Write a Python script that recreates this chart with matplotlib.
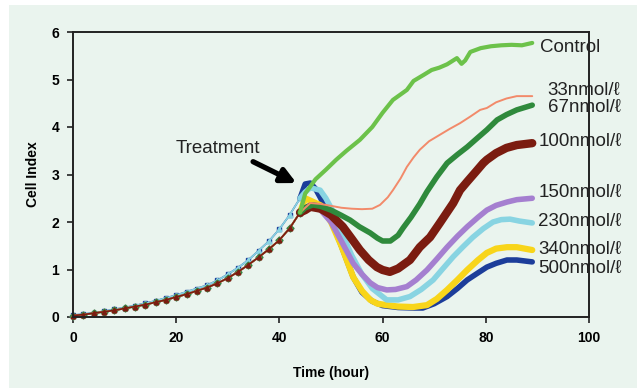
import matplotlib.pyplot as plt
from matplotlib.patches import Rectangle

# growth phase before treatment (hours, cell index)
t_pre = [0, 2, 4, 6, 8, 10, 12, 14, 16, 18, 20, 22, 24, 26, 28, 30, 32, 34, 36, 38, 40, 42, 44]
pre_low = [0.03, 0.05, 0.08, 0.11, 0.14, 0.18, 0.22, 0.26, 0.31, 0.36, 0.42, 0.48, 0.55, 0.62,
           0.71, 0.82, 0.95, 1.10, 1.26, 1.43, 1.62, 1.87, 2.20]
pre_high = [0.04, 0.06, 0.09, 0.12, 0.16, 0.20, 0.24, 0.29, 0.34, 0.40, 0.46, 0.53, 0.60, 0.67,
            0.77, 0.90, 1.04, 1.20, 1.40, 1.60, 1.85, 2.15, 2.50]

# after treatment
ctrl_t = [45, 47, 49, 51, 53, 55.6, 58, 60, 62, 64.7, 66, 68, 69.5, 71, 72.5, 74.4, 75.3, 76, 77, 79, 81,
          83, 85, 87, 89]
ctrl_y = [2.6, 2.9, 3.1, 3.31, 3.5, 3.73, 4.0, 4.3, 4.57, 4.78, 4.97, 5.1, 5.2, 5.25, 5.32, 5.45, 5.33,
          5.4, 5.58, 5.66, 5.7, 5.72, 5.73, 5.72, 5.77]

c33_t = [45, 46, 48, 50, 52, 54, 56, 58, 59.5, 61, 62, 63.5, 64.7, 66, 67.2, 69, 71, 73, 75, 77, 78.9, 80.2,
         82, 84, 86, 89]
c33_y = [2.3, 2.4, 2.38, 2.34, 2.3, 2.28, 2.27, 2.28, 2.36, 2.52, 2.67, 2.92, 3.16, 3.36, 3.52, 3.7, 3.83,
         3.96, 4.08, 4.22, 4.36, 4.4, 4.52, 4.6, 4.65, 4.65]

c67_t = [45, 46.5, 48, 50, 52, 53.7, 55.5, 57.6, 59, 60, 61.5, 63, 64, 65.5, 67.2, 68.6, 70.5, 72.5, 74.5,
         76.4, 78.5, 80.2, 82.2, 84, 86, 89]
c67_y = [2.3, 2.36, 2.33, 2.25, 2.14, 2.04, 1.9, 1.77, 1.66, 1.6, 1.6, 1.72, 1.88, 2.1, 2.38, 2.64, 2.95,
         3.24, 3.42, 3.58, 3.78, 3.94, 4.15, 4.26, 4.36, 4.46]

c100_t = [45, 46, 48, 50, 52.3, 54, 55.6, 57.3, 58.9, 60, 61.4, 63, 65.3, 67.2, 69.2, 71.1, 73.7, 75, 76.4,
          78, 79.5, 80.2, 82, 84, 86, 89]
c100_y = [2.25, 2.32, 2.28, 2.15, 1.9, 1.65, 1.41, 1.2, 1.05, 0.99, 0.95, 1.02, 1.2, 1.47, 1.68, 1.98, 2.4,
          2.67, 2.85, 3.05, 3.24, 3.31, 3.45, 3.56, 3.62, 3.66]

c150_t = [45, 46, 48, 50, 52, 54.3, 56, 57.6, 59, 60.8, 62.5, 64.7, 66.5, 68.6, 70.5, 72.5, 74.5, 76.4,
          78.5, 80.2, 82, 84.1, 86, 89]
c150_y = [2.3, 2.35, 2.25, 2.0, 1.6, 1.13, 0.9, 0.72, 0.62, 0.57, 0.58, 0.64, 0.78, 0.99, 1.22, 1.47, 1.7,
          1.9, 2.1, 2.25, 2.35, 2.42, 2.47, 2.5]

c230_t = [45, 46, 47.9, 49, 50.5, 52, 54, 56, 58, 60.8, 63, 65.3, 67.5, 69.8, 71.7, 73.7, 75.6, 77.5, 79.5,
          81.4, 83, 84.7, 86.5, 89]
c230_y = [2.63, 2.72, 2.67, 2.5, 2.2, 1.8, 1.3, 0.9, 0.6, 0.36, 0.36, 0.43, 0.58, 0.78, 1.02, 1.27, 1.48,
          1.68, 1.86, 2.0, 2.05, 2.06, 2.02, 1.98]

c340_t = [45, 46, 48, 50, 52, 54.3, 56, 57.6, 59, 60.8, 63, 65.9, 68.6, 70.5, 72.5, 74.5, 76.4, 78.5, 80.2,
          82, 84.1, 86, 87.5, 89]
c340_y = [2.5, 2.45, 2.35, 2.0, 1.5, 0.84, 0.55, 0.36, 0.28, 0.25, 0.22, 0.21, 0.25, 0.38, 0.57, 0.78, 0.99,
          1.2, 1.35, 1.44, 1.47, 1.47, 1.44, 1.41]

c500_t = [45, 46, 47, 48, 50, 52, 54.3, 56, 58, 60, 63, 66, 67.8, 70, 72.5, 74.5, 76.4, 78.5, 80.2, 82,
          84.1, 86, 89]
c500_y = [2.8, 2.82, 2.7, 2.5, 2.05, 1.5, 0.84, 0.52, 0.33, 0.24, 0.2, 0.19, 0.19, 0.28, 0.43, 0.6, 0.78,
          0.93, 1.05, 1.13, 1.2, 1.2, 1.16]

labels = ['Control', '33nmol/ℓ', '67nmol/ℓ', '100nmol/ℓ', '150nmol/ℓ', '230nmol/ℓ', '340nmol/ℓ', '500nmol/ℓ']
label_x = [90.5, 92, 92, 90.2, 90.2, 90.2, 90.2, 90.2]
label_y = [5.68, 4.76, 4.42, 3.69, 2.63, 2.0, 1.43, 1.03]

fonts = ['Liberation Sans', 'DejaVu Sans']
bg = '#eaf4ee'
fig = plt.figure(figsize=(6.37, 3.88), dpi=100, facecolor='white')
fig.patches.append(Rectangle((9 / 637, 0), 1, 383 / 388, transform=fig.transFigure,
                             facecolor=bg, edgecolor='none', zorder=-1))
ax = fig.add_axes([73 / 637, 71 / 388, 516 / 637, 285 / 388])
ax.set_facecolor(bg)

# post-treatment curves, drawn bottom to top: (times, values, pre curve, colour, width)
series = [
    (c500_t, c500_y, pre_high, '#1c3d9a', 4.0),
    (c340_t, c340_y, pre_low, '#f8d51a', 4.5),
    (c230_t, c230_y, pre_high, '#88d4e2', 4.0),
    (c150_t, c150_y, pre_low, '#a57fd0', 4.0),
    (c100_t, c100_y, pre_low, '#7b1c10', 6.0),
    (c67_t, c67_y, pre_low, '#2f8a3c', 4.0),
    (c33_t, c33_y, pre_low, '#f28a6a', 1.4),
    (ctrl_t, ctrl_y, pre_low, '#6cc24a', 3.0),
]

# pre-treatment part is drawn as dotted markers, brown ends up on top
pre_order = [(7, 'D'), (0, 's'), (2, '^'), (1, 'o'), (3, 'D'), (5, 'D'), (6, '_'), (4, '^')]
for i, mk in pre_order:
    t, y, pre, col, lw = series[i]
    ax.plot(t_pre, pre, color=col, lw=1.2, marker=mk, ms=3.4, clip_on=False)

for t, y, pre, col, lw in series:
    ax.plot([t_pre[-1]] + t, [pre[-1]] + y, color=col, lw=lw,
            solid_capstyle='round', solid_joinstyle='round')

for lab, lx, ly in zip(labels, label_x, label_y):
    ax.text(lx, ly, lab, fontsize=13.5, va='center', ha='left', color='#222222',
            family=fonts, zorder=1)

ax.text(19.8, 3.55, 'Treatment', fontsize=13.5, va='center', ha='left', color='#222222', family=fonts)
ax.annotate('', xy=(43.3, 2.82), xytext=(34.9, 3.27),
            arrowprops=dict(arrowstyle='-|>', color='black', lw=3.8, mutation_scale=22,
                            shrinkA=0, shrinkB=0))

ax.set_xlim(0, 100)
ax.set_ylim(0, 6)
ax.set_xticks([0, 20, 40, 60, 80, 100])
ax.set_yticks([0, 1, 2, 3, 4, 5, 6])
for s in ax.spines.values():
    s.set_linewidth(1.4)
    s.set_color('#222222')
    s.set_zorder(5)
ax.tick_params(direction='out', length=4, width=1.2, color='#222222', labelsize=10, pad=6)
for lbl in ax.get_xticklabels() + ax.get_yticklabels():
    lbl.set_fontweight('bold')
    lbl.set_family(fonts)
ax.set_xlabel('Time (hour)', fontsize=10, fontweight='bold', labelpad=15, family=fonts)
ax.set_ylabel('Cell Index', fontsize=10, fontweight='bold', labelpad=8, family=fonts)

fig.savefig('out.png', dpi=100, facecolor=fig.get_facecolor())
